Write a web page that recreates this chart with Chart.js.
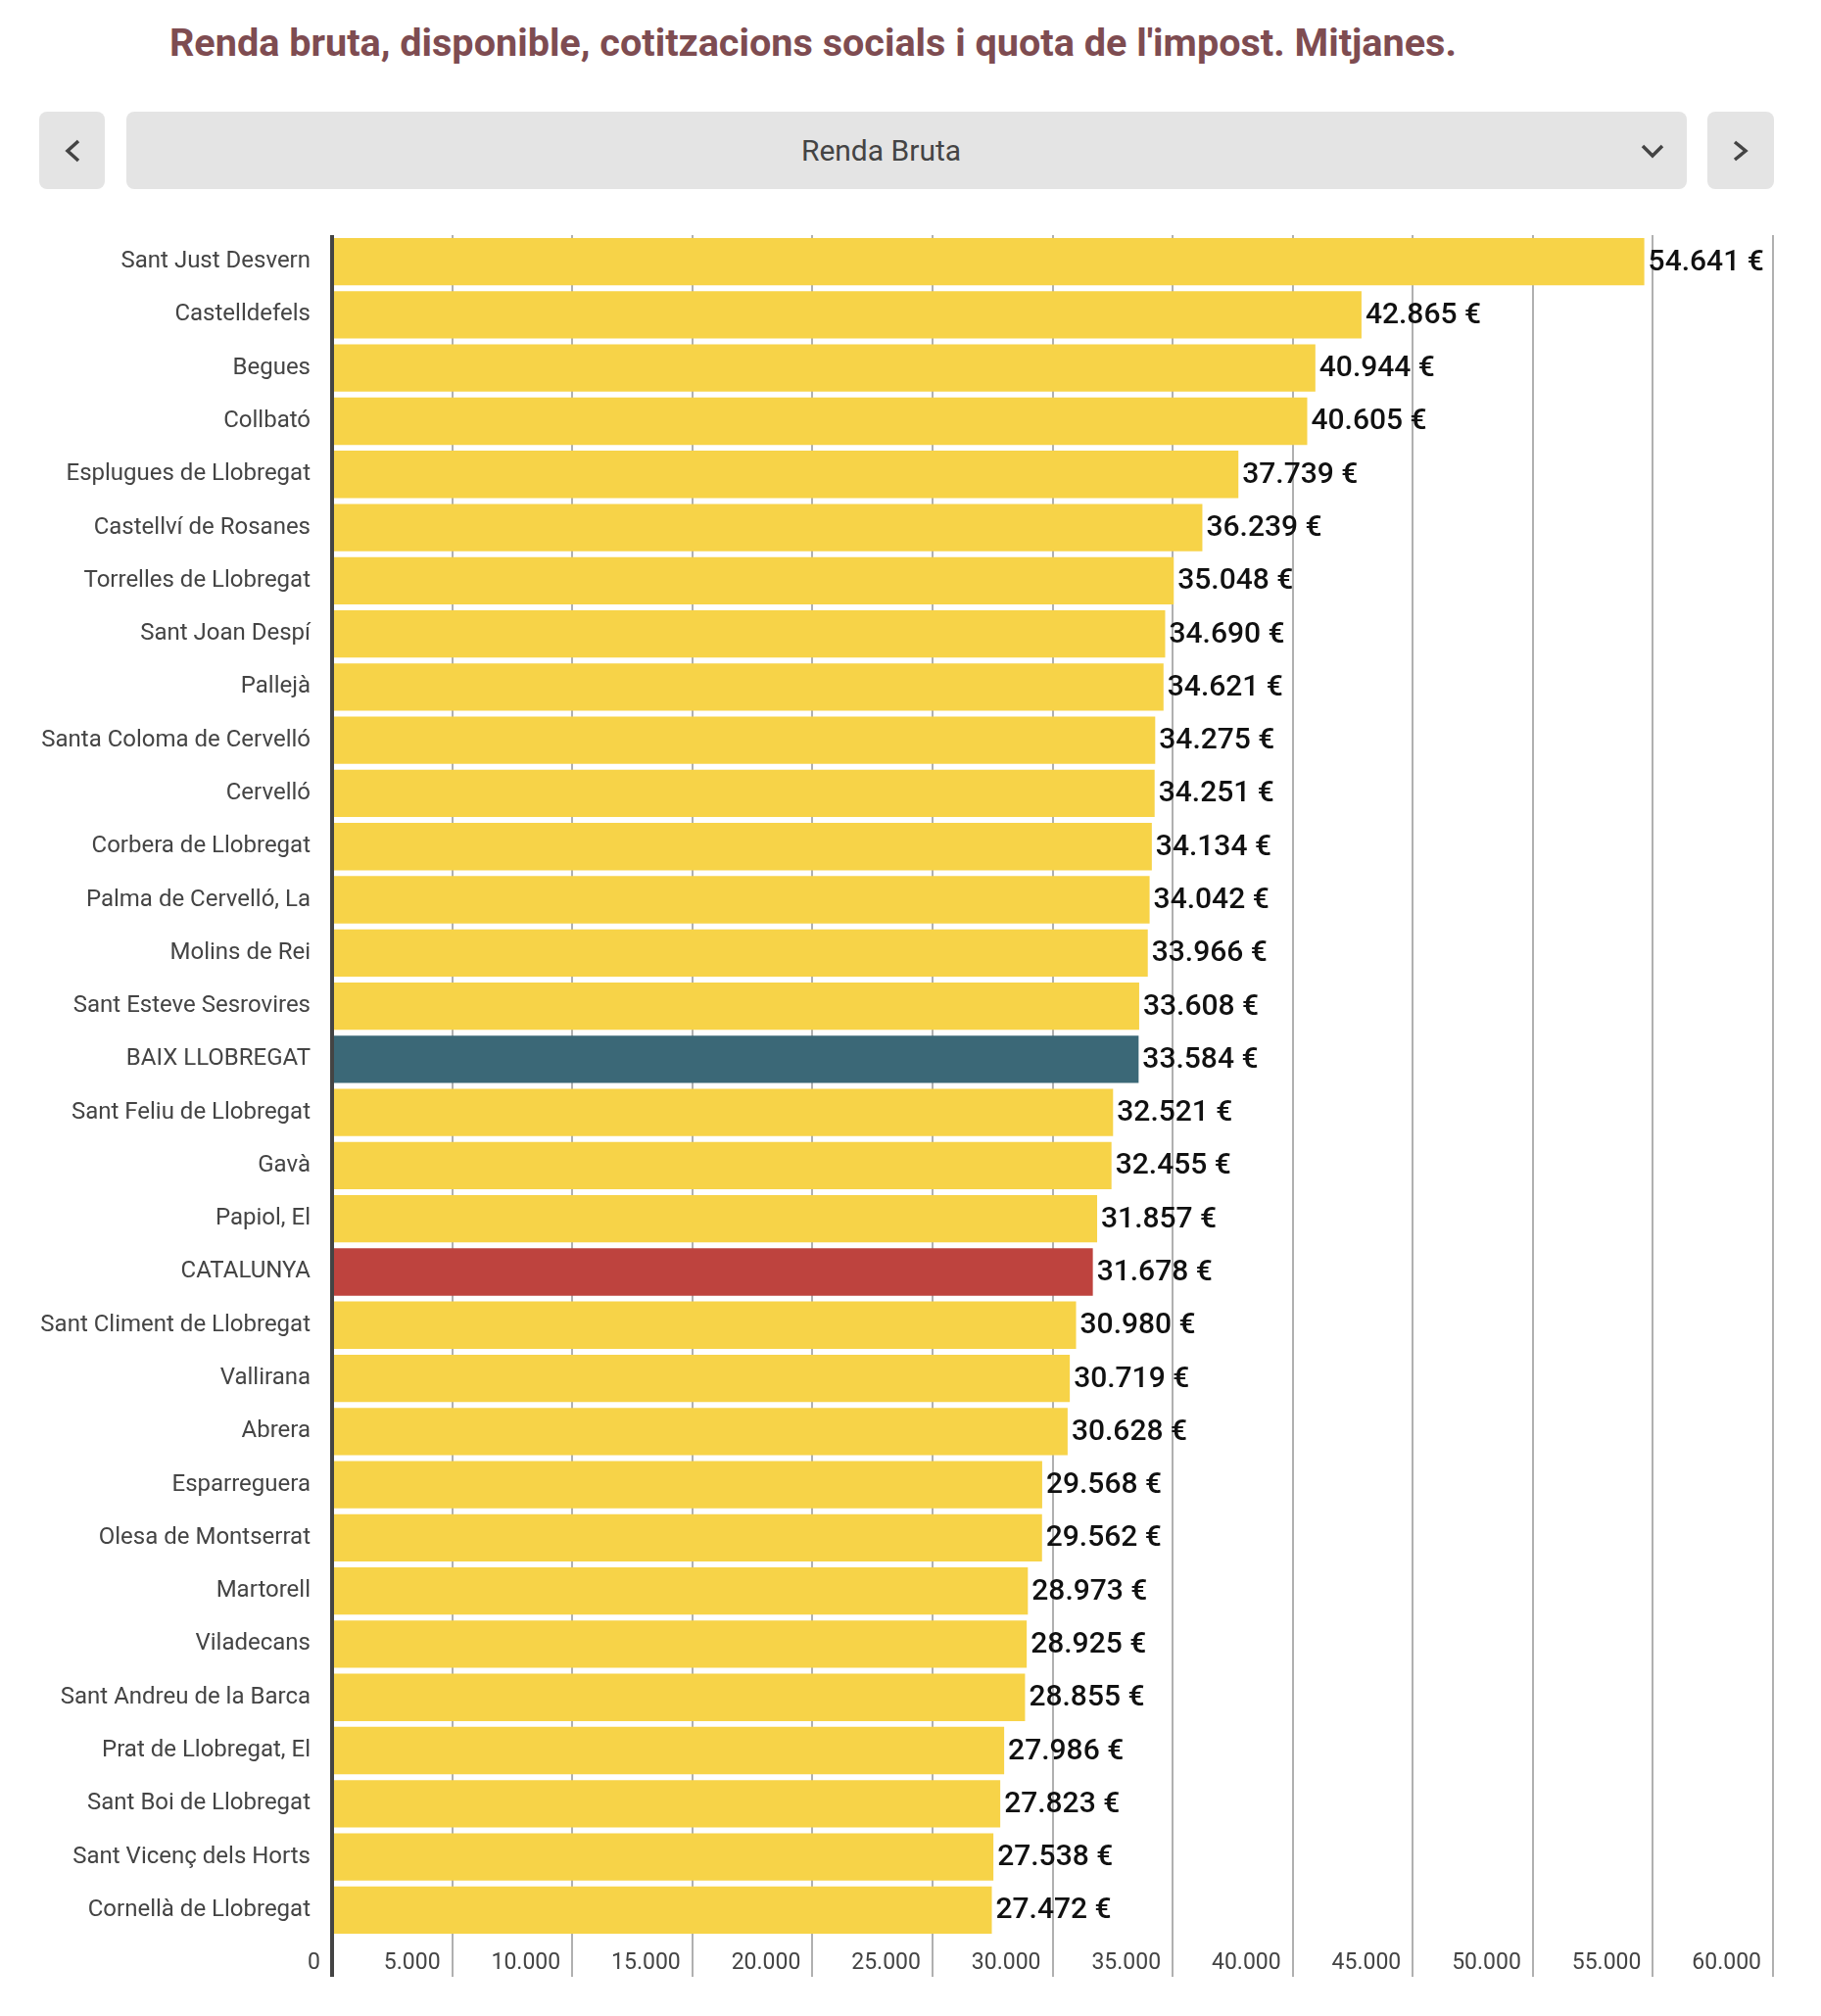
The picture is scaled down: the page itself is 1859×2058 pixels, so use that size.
<html>
  <head>
    <meta charset="utf-8">
    <style>
      html, body { margin: 0; padding: 0; background: #fff; }
      body { width: 1859px; height: 2058px; position: relative; overflow: hidden; font-family: Roboto, sans-serif; }
      .title {
        position: absolute; left: 173px; top: 24px;
        font-size: 39.6px; line-height: 40px; font-weight: 700; color: #7e4c51;
        white-space: nowrap;
      }
      .btn {
        position: absolute; top: 114px; height: 79px;
        background: #e4e4e4; border-radius: 8px;
      }
      .btn svg { position: absolute; }
      .select {
        left: 129px; width: 1593px;
        text-align: center; line-height: 79px; font-size: 30px; color: #444;
        box-sizing: border-box; padding-right: 52px;
      }
      #wrap { position: absolute; left: 0; top: 200px; width: 1859px; height: 1858px; }
    </style>
    <script src="https://cdn.jsdelivr.net/npm/chart.js"></script>
  </head>
  <body>
    <div class="title">Renda bruta, disponible, cotitzacions socials i quota de l'impost. Mitjanes.</div>
    <div class="btn" style="left:40px;width:67px">
      <svg width="67" height="79" style="left:0;top:0"><polyline points="40,30 29,40 40,50" fill="none" stroke="#444" stroke-width="3.5"/></svg>
    </div>
    <div class="btn select">Renda Bruta
      <svg width="30" height="20" style="left:1545px;top:31px"><polyline points="3,4 13,14 23,4" fill="none" stroke="#444" stroke-width="3.5"/></svg>
    </div>
    <div class="btn" style="left:1743px;width:68px">
      <svg width="68" height="79" style="left:0;top:0"><polyline points="28,31 39,40 28,49" fill="none" stroke="#444" stroke-width="3.5"/></svg>
    </div>
    <div id="wrap"><canvas id="myChart"></canvas></div>
    <script type="text/javascript">
      // municipalities, sorted as in the source
      var municipis = ['Sant Just Desvern', 'Castelldefels', 'Begues', 'Collbató', 'Esplugues de Llobregat',
        'Castellví de Rosanes', 'Torrelles de Llobregat', 'Sant Joan Despí', 'Pallejà', 'Santa Coloma de Cervelló',
        'Cervelló', 'Corbera de Llobregat', 'Palma de Cervelló, La', 'Molins de Rei', 'Sant Esteve Sesrovires',
        'BAIX LLOBREGAT', 'Sant Feliu de Llobregat', 'Gavà', 'Papiol, El', 'CATALUNYA',
        'Sant Climent de Llobregat', 'Vallirana', 'Abrera', 'Esparreguera', 'Olesa de Montserrat',
        'Martorell', 'Viladecans', 'Sant Andreu de la Barca', 'Prat de Llobregat, El', 'Sant Boi de Llobregat',
        'Sant Vicenç dels Horts', 'Cornellà de Llobregat'];

      // renda bruta mitjana (€)
      var rendaBruta = [54641, 42865, 40944, 40605, 37739,
        36239, 35048, 34690, 34621, 34275,
        34251, 34134, 34042, 33966, 33608,
        33584, 32521, 32455, 31857, 31678,
        30980, 30719, 30628, 29568, 29562,
        28973, 28925, 28855, 27986, 27823,
        27538, 27472];

      var xMin = 0, xMax = 60000, xStep = 5000;

      function fmt(n) {
        return String(Math.round(n)).replace(/\B(?=(\d{3})+(?!\d))/g, '.');
      }

      var colors = municipis.map(function (m) {
        if (m === 'BAIX LLOBREGAT') return '#3b6877';
        if (m === 'CATALUNYA') return '#be433e';
        return '#f7d348';
      });

      // values drawn next to each bar
      var valueLabels = {
        id: 'valueLabels',
        afterDatasetsDraw: function (chart) {
          var ctx = chart.ctx;
          var meta = chart.getDatasetMeta(0);
          ctx.save();
          ctx.font = '500 30px Roboto';
          ctx.fillStyle = '#111';
          ctx.textAlign = 'left';
          ctx.textBaseline = 'middle';
          meta.data.forEach(function (bar, i) {
            ctx.fillText(fmt(rendaBruta[i]) + ' €', bar.x + 4, bar.y + 1);
          });
          ctx.restore();
        }
      };

      Chart.defaults.font.family = 'Roboto';

      var ctx = document.getElementById('myChart').getContext('2d');
      var chart = new Chart(ctx, {
        type: 'bar',
        data: {
          labels: municipis,
          datasets: [{
            data: rendaBruta,
            backgroundColor: colors,
            borderWidth: 0,
            categoryPercentage: 0.89,
            barPercentage: 1
          }]
        },
        plugins: [valueLabels],
        options: {
          indexAxis: 'y',
          responsive: true,
          maintainAspectRatio: false,
          animation: false,
          layout: { padding: { top: 40, right: 49, bottom: 0, left: 0 } },
          plugins: {
            legend: { display: false },
            tooltip: { enabled: false }
          },
          scales: {
            x: {
              min: xMin,
              max: xMax,
              afterFit: function (scale) { scale.height = 81; },
              border: { display: false },
              grid: {
                color: function (c) { return c.tick && c.tick.value === 0 ? '#444' : '#b0b0b0'; },
                lineWidth: function (c) { return c.tick && c.tick.value === 0 ? 4 : 2; },
                tickLength: 41
              },
              ticks: {
                stepSize: xStep,
                autoSkip: false,
                maxRotation: 0,
                align: 'end',
                labelOffset: -12,
                padding: -28,
                color: '#444',
                font: { size: 23 },
                callback: function (v) { return fmt(v); }
              }
            },
            y: {
              afterFit: function (scale) { scale.width = 339; },
              border: { display: false },
              grid: { display: false, drawTicks: false },
              ticks: {
                autoSkip: false,
                padding: 22,
                color: '#444',
                font: { size: 24 }
              }
            }
          }
        }
      });
    </script>
  </body>
</html>
